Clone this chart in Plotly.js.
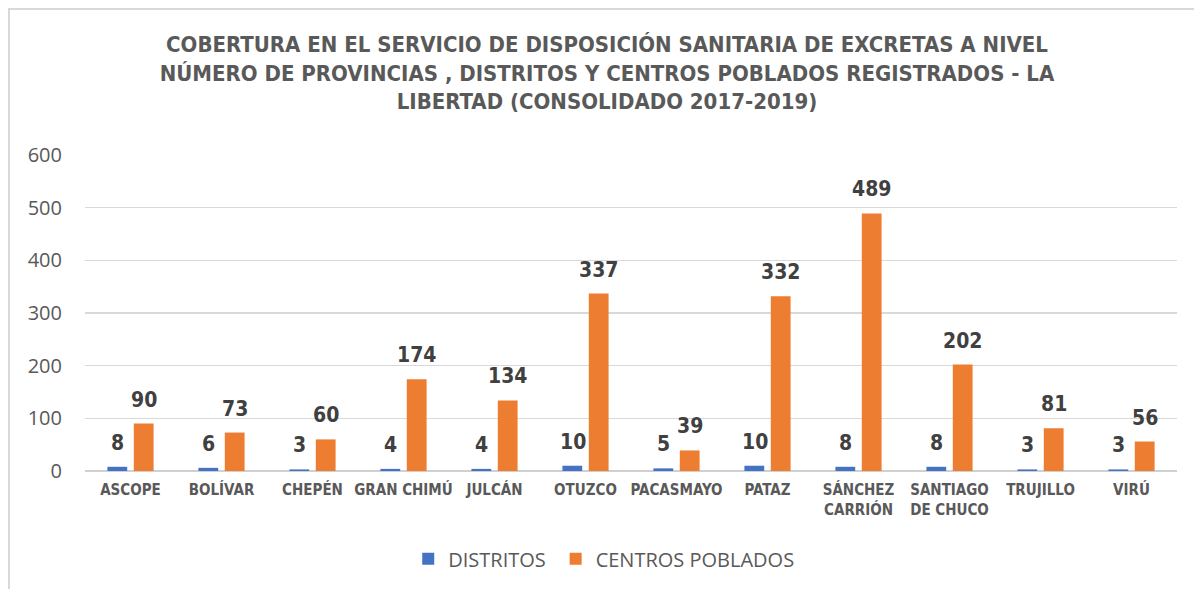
<!DOCTYPE html>
<html>
<head>
<meta charset="utf-8">
<script src="https://cdn.plot.ly/plotly-3.0.1.min.js"></script>
<style>
  html, body { margin: 0; padding: 0; background: #fff; }
  #wrap { position: relative; width: 1194px; height: 589px; overflow: hidden; }
  #chart { position: absolute; left: 0; top: 0; width: 1194px; height: 589px; }
  #frame { position: absolute; left: 8px; top: 8px; width: 1200px; height: 600px;
           border-left: 2px solid #d9d9d9; border-top: 2px solid #d9d9d9; pointer-events: none; }
</style>
</head>
<body>
<div id="wrap"><div id="chart"></div><div id="frame"></div></div>
<script>
const categories = ["ASCOPE", "BOLÍVAR", "CHEPÉN", "GRAN CHIMÚ", "JULCÁN", "OTUZCO",
  "PACASMAYO", "PATAZ", "SÁNCHEZ<br>CARRIÓN", "SANTIAGO<br>DE CHUCO", "TRUJILLO", "VIRÚ"];
const distritos = [8, 6, 3, 4, 4, 10, 5, 10, 8, 8, 3, 3];
const centrosPoblados = [90, 73, 60, 174, 134, 337, 39, 332, 489, 202, 81, 56];
const yTicks = [0, 100, 200, 300, 400, 500, 600];

const narrow = "DejaVu Sans Condensed, Liberation Sans Narrow, Arial Narrow, sans-serif";
const regular = "Open Sans, Segoe UI, sans-serif";

const traces = [
  { type: "bar", name: "DISTRITOS", x: categories, y: distritos, legend: "legend",
    marker: { color: "#4472c4" }, hoverinfo: "skip" },
  { type: "bar", name: "CENTROS POBLADOS", x: categories, y: centrosPoblados, legend: "legend2",
    marker: { color: "#ed7d31" }, hoverinfo: "skip" }
];

const annotations = [];
function addLabels(vals, shift) {
  vals.forEach((v, i) => {
    annotations.push({ x: categories[i], y: v, xref: "x", yref: "y", text: String(v),
      showarrow: false, xshift: shift, yshift: 24, yanchor: "middle",
      font: { family: narrow, size: 21, color: "#404040", weight: "bold" } });
  });
}
addLabels(distritos, -13);
addLabels(centrosPoblados, 13);

const legendFont = { family: regular, size: 20, color: "#595959" };

const layout = {
  width: 1194, height: 589,
  margin: { l: 85, r: 17, t: 155, b: 117 },
  paper_bgcolor: "#ffffff", plot_bgcolor: "#ffffff",
  title: {
    text: "COBERTURA EN EL SERVICIO DE DISPOSICIÓN SANITARIA DE EXCRETAS A NIVEL<br>NÚMERO DE PROVINCIAS , DISTRITOS Y CENTROS POBLADOS REGISTRADOS - LA<br>LIBERTAD (CONSOLIDADO 2017-2019)",
    font: { family: narrow, size: 22, color: "#595959", weight: "bold" },
    x: 607 / 1194, xref: "container", xanchor: "center",
    y: 1 - 52 / 589, yref: "container", yanchor: "middle"
  },
  barmode: "group", bargap: 0.42, bargroupgap: 0.25,
  xaxis: {
    type: "category", showgrid: false, zeroline: false, showline: false, ticks: "",
    ticklabelstandoff: 8,
    tickfont: { family: narrow, size: 15, color: "#595959", weight: "bold" },
    fixedrange: true
  },
  yaxis: {
    range: [0, 600], tickvals: yTicks, ticktext: yTicks.map(String),
    showgrid: true, gridcolor: "#d9d9d9", gridwidth: 1.5,
    zeroline: true, zerolinecolor: "#d0d0d0", zerolinewidth: 2,
    showline: false, ticks: "", ticklabelstandoff: 22,
    tickfont: { family: regular, size: 20, color: "#595959" },
    fixedrange: true
  },
  showlegend: true,
  legend: {
    orientation: "h", x: 0.296, xanchor: "left", y: -0.274, yanchor: "middle",
    font: legendFont, itemclick: false, itemdoubleclick: false
  },
  legend2: {
    orientation: "h", x: 0.431, xanchor: "left", y: -0.274, yanchor: "middle",
    font: legendFont, itemclick: false, itemdoubleclick: false
  },
  annotations: annotations
};

Plotly.newPlot("chart", traces, layout, { displayModeBar: false, staticPlot: true });
</script>
</body>
</html>
